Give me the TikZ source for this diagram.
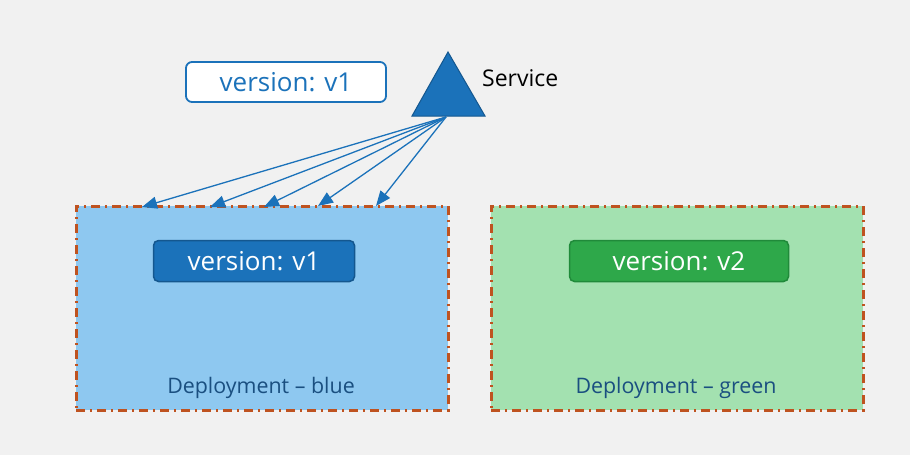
\documentclass[tikz,border=0pt]{standalone}
\usepackage{fontspec}
\setmainfont{Open Sans}
\usetikzlibrary{arrows.meta}
\definecolor{bg}{HTML}{F1F1F1}
\definecolor{kblue}{HTML}{1B72BA}
\definecolor{kbluedark}{HTML}{14578F}
\definecolor{lblue}{HTML}{8EC8F0}
\definecolor{lgreen}{HTML}{A3E1B0}
\definecolor{kgreen}{HTML}{2EA84A}
\definecolor{kgreendark}{HTML}{208A3A}
\definecolor{dashc}{HTML}{BF5320}
\definecolor{deptext}{HTML}{1A4F80}
\begin{document}
\begin{tikzpicture}[x=1pt,y=-1pt,
  deploy/.style={draw=dashc, line width=2.6pt, dash pattern=on 9pt off 5pt on 2pt off 5pt, minimum width=372pt, minimum height=204pt, inner sep=0pt},
  pill/.style={rounded corners=5pt, line width=1.5pt, text=white, font=\fontsize{26}{30}\selectfont, minimum height=41pt, inner sep=0pt},
  deplabel/.style={text=deptext, font=\fontsize{21.4}{25}\selectfont, inner sep=0pt},
  conn/.style={draw=kblue, line width=1.3pt, -{Triangle[length=15pt,width=12pt]}}
]
\fill[bg] (0,0) rectangle (910,455);
\useasboundingbox (0,0) rectangle (910,455);

% deployments
\node[deploy, fill=lblue, anchor=north west] (blue) at (75,205) {};
\node[deploy, fill=lgreen, anchor=north west] (green) at (490,205) {};

\node[pill, fill=kblue, draw=kbluedark, minimum width=201pt] (v1in) at (254,261) {version: v1};
\node[pill, fill=kgreen, draw=kgreendark, minimum width=219pt] (v2in) at (679,261) {version: v2};

\node[deplabel] (lblue) at (261,388) {Deployment – blue};
\node[deplabel] (lgreen) at (676,388) {Deployment – green};

% top label
\node[rounded corners=6pt, draw=kblue, line width=1.8pt, fill=white, text=kblue,
  font=\fontsize{26}{30}\selectfont, minimum width=200pt, minimum height=40pt, inner sep=0pt] (sel) at (286,82) {version: v1};

% service triangle
\draw[fill=kblue, draw=kbluedark, line width=1pt] (448,52) -- (485,116) -- (412,116) -- cycle;
\coordinate (svc) at (446,117);
\node[anchor=west, font=\fontsize{23}{27}\selectfont, inner sep=0pt] (svclabel) at (482,78) {Service};

% arrow targets
\coordinate (t1) at (142,207);
\coordinate (t2) at (210,207);
\coordinate (t3) at (264,207);
\coordinate (t4) at (318,206);
\coordinate (t5) at (376,206);
\foreach \t in {t1,t2,t3,t4,t5} \draw[conn] (svc) -- (\t);
\end{tikzpicture}
\end{document}
